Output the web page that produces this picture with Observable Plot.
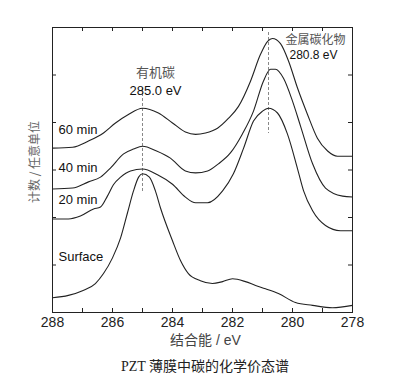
<!DOCTYPE html>
<html><head><meta charset="utf-8">
<script src="https://cdn.jsdelivr.net/npm/d3@7"></script>
<script src="https://cdn.jsdelivr.net/npm/@observablehq/plot@0.6"></script>
<style>
body{margin:0;background:#fff;}
#chart{width:399px;height:350px;}
.caption{font-family:"Liberation Serif","Noto Sans CJK SC",serif;font-size:14px;color:#222;text-align:center;width:388px;padding-left:11px;padding-top:4px;line-height:26px;}
</style></head><body>
<div id="chart"></div>
<div class="caption">PZT 薄膜中碳的化学价态谱</div>
<script>
// Binding energy (eV) and intensity (arb. units) per series
const seriesNames = ["Surface", "20 min", "40 min", "60 min"];

const energySurface = [288, 287.47, 287.0, 286.57, 286.3, 286.0, 285.73, 285.5, 285.3, 285.13, 285.0, 284.77, 284.57, 284.4, 284.0, 283.73, 283.47, 283.07, 282.67, 282.33, 282.0, 281.57, 281.23, 280.9, 280.47, 279.9, 279.33, 278.67, 278];
const intensitySurface = [0.31, 0.36, 0.46, 0.61, 0.82, 1.15, 1.57, 2.10, 2.56, 2.85, 2.92, 2.85, 2.56, 2.20, 1.51, 1.09, 0.82, 0.67, 0.61, 0.65, 0.71, 0.65, 0.57, 0.50, 0.40, 0.21, 0.15, 0.10, 0.15];

const energy20 = [288, 287.47, 287.07, 286.63, 286.4, 286.17, 285.97, 285.73, 285.4, 285.0, 284.5, 284.0, 283.57, 283.23, 282.83, 282.33, 281.97, 281.63, 281.3, 281.0, 280.8, 280.5, 280.17, 279.83, 279.63, 279.33, 278.9, 278.4, 278];
const intensity20 = [1.97, 1.97, 2.03, 2.18, 2.22, 2.45, 2.69, 2.85, 2.98, 3.02, 2.90, 2.70, 2.43, 2.31, 2.31, 2.56, 2.92, 3.46, 4.03, 4.24, 4.30, 4.20, 3.76, 3.02, 2.56, 2.14, 1.83, 1.72, 1.72];

const energy40 = [288, 287.33, 286.8, 286.4, 286.07, 285.63, 285.3, 285.0, 284.53, 284.07, 283.57, 283.23, 282.83, 282.47, 282.07, 281.67, 281.3, 280.97, 280.73, 280.57, 280.3, 280.0, 279.73, 279.33, 278.9, 278.33, 278];
const intensity40 = [2.60, 2.62, 2.75, 2.85, 3.04, 3.34, 3.44, 3.50, 3.40, 3.25, 2.98, 2.94, 2.98, 3.13, 3.36, 3.76, 4.24, 4.87, 5.12, 5.12, 4.93, 4.45, 3.92, 3.13, 2.62, 2.45, 2.43];

const energy60 = [288, 287.33, 286.8, 286.3, 285.9, 285.47, 285.0, 284.47, 284.0, 283.57, 283.23, 282.9, 282.5, 282.13, 281.8, 281.4, 281.07, 280.83, 280.67, 280.4, 280.13, 279.83, 279.5, 279.17, 278.83, 278.5, 278];
const intensity60 = [3.46, 3.48, 3.61, 3.78, 3.99, 4.17, 4.30, 4.20, 3.99, 3.80, 3.75, 3.78, 3.88, 4.09, 4.34, 4.87, 5.43, 5.71, 5.77, 5.66, 5.29, 4.72, 4.17, 3.67, 3.40, 3.29, 3.29];

const xTickLabels = [288, 286, 284, 282, 280, 278];
const xMinorTicks = [288, 287, 286, 285, 284, 283, 282, 281, 280, 279, 278];
const yTicks = [1, 2, 3, 4, 5];

const peakEnergies = [285.0, 280.8];
const peakNames = ["有机碳", "金属碳化物"];
const peakLabels = ["285.0 eV", "280.8 eV"];

const xAxisLabel = "结合能 / eV";
const yAxisLabel = "计数 / 任意单位";

const seriesData = [
  [energySurface, intensitySurface],
  [energy20, intensity20],
  [energy40, intensity40],
  [energy60, intensity60]
];
const rows = [];
seriesData.forEach(([es, is], k) => es.forEach((e, i) => rows.push({series: seriesNames[k], energy: e, intensity: is[i]})));

const latin = "'Liberation Sans', Arial, 'Noto Sans CJK SC', sans-serif";
const cjk = "'Noto Sans CJK SC', sans-serif";
const labelDy = [224, 167, 135, 97];

const plot = Plot.plot({
  width: 399, height: 350,
  marginLeft: 52, marginRight: 47, marginTop: 27, marginBottom: 38,
  x: {domain: [288, 278]},
  y: {domain: [0, 6], axis: null},
  style: {fontFamily: latin, background: "#fff", color: "#222"},
  marks: [
    Plot.frame({stroke: "#222", strokeWidth: 1}),
    Plot.tickX(xMinorTicks, {x: d => d, insetTop: 281, stroke: "#222"}),
    Plot.tickX(xMinorTicks, {x: d => d, insetBottom: 281, stroke: "#222"}),
    Plot.tickY(yTicks, {y: d => d, insetRight: 296, stroke: "#222"}),
    Plot.tickY(yTicks, {y: d => d, insetLeft: 296, stroke: "#222"}),
    Plot.axisX(xTickLabels, {tickSize: 0, tickPadding: 5, fontSize: 14, label: null, fill: "#222"}),
    Plot.ruleX(peakEnergies.slice(0, 1), {x: d => d, insetTop: 61, insetBottom: 120, stroke: "#888", strokeDasharray: "3,2"}),
    Plot.ruleX(peakEnergies.slice(1), {x: d => d, insetTop: 5, insetBottom: 179, stroke: "#888", strokeDasharray: "3,2"}),
    Plot.line(rows, {x: "energy", y: "intensity", z: "series", curve: "monotone-x", stroke: "#222", strokeWidth: 1.1}),
    ...seriesNames.map((s, k) => Plot.text([s], {text: d => d, frameAnchor: "top-left", textAnchor: "start", dx: 6, dy: labelDy[k], fontSize: 13, fill: "#111"})),
    Plot.text([0], {x: () => peakEnergies[0], text: () => peakNames[0], frameAnchor: "top", dx: 13, dy: 40, fontSize: 13, fill: "#555", fontFamily: cjk}),
    Plot.text([0], {x: () => peakEnergies[0], text: () => peakLabels[0], frameAnchor: "top", dx: 13, dy: 58, fontSize: 13, fill: "#111"}),
    Plot.text([0], {x: () => peakEnergies[1], text: () => peakNames[1], frameAnchor: "top", dx: 47, dy: 8, fontSize: 12, fill: "#555", fontFamily: cjk}),
    Plot.text([0], {x: () => peakEnergies[1], text: () => peakLabels[1], frameAnchor: "top", dx: 45, dy: 23, fontSize: 12, fill: "#111"}),
    Plot.text([xAxisLabel], {text: d => d, frameAnchor: "bottom", dx: 3, dy: 32, fontSize: 14, fill: "#444"}),
    Plot.text([yAxisLabel], {text: d => d, frameAnchor: "left", textAnchor: "middle", rotate: -90, dx: -17, dy: -8, fontSize: 12, fill: "#666", fontFamily: cjk})
  ]
});
document.getElementById("chart").appendChild(plot);
</script>
</body></html>
